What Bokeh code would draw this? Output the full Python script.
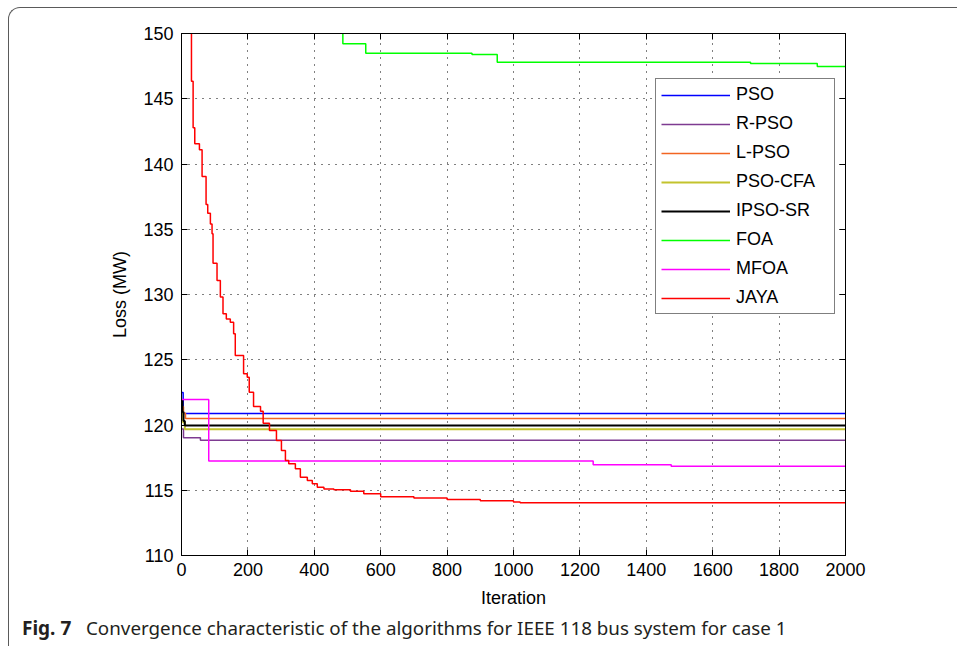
from bokeh.plotting import figure
from bokeh.layouts import column
from bokeh.models import Range1d, FixedTicker, LinearAxis, Legend, LegendItem, Div
from bokeh.embed import file_html
from bokeh.resources import INLINE

# Convergence histories (iteration at which each best-loss level starts, loss in MW)
pso_iter = [0, 5, 2000]
pso_loss = [122.5, 120.88, 120.88]

rpso_iter = [0, 6, 57, 2000]
rpso_loss = [119.7, 119.02, 118.84, 118.84]

lpso_iter = [0, 6, 12, 2000]
lpso_loss = [121.4, 120.9, 120.5, 120.5]

cfa_iter = [0, 5, 10, 2000]
cfa_loss = [121.0, 120.2, 119.68, 119.68]

ipso_iter = [0, 3, 6, 10, 2000]
ipso_loss = [121.9, 121.0, 120.3, 119.97, 119.97]

foa_iter = [0, 486, 555, 875, 951, 1714, 1915, 2000]
foa_loss = [152.0, 149.21, 148.49, 148.39, 147.8, 147.7, 147.47, 147.47]

mfoa_iter = [0, 82, 1240, 1475, 2000]
mfoa_loss = [121.95, 117.25, 116.95, 116.84, 116.84]

jaya_iter = [0, 30, 35, 40, 54, 62, 74, 79, 87, 92, 95, 107, 117, 125, 135, 147,
             157, 162, 187, 198, 204, 217, 238, 246, 265, 286, 301, 313, 323, 343,
             358, 379, 394, 409, 429, 459, 509, 549, 600, 700, 800, 900, 1000,
             1020, 2000]
jaya_loss = [165.0, 146.35, 142.77, 141.55, 141.09, 139.04, 136.90, 136.23, 135.4,
             134.65, 132.4, 131.07, 129.8, 128.52, 128.13, 127.88, 126.99, 125.33,
             123.92, 123.66, 122.51, 121.42, 121.06, 120.14, 119.58, 118.81, 118.05,
             117.28, 117.03, 116.65, 116.0, 115.75, 115.5, 115.23, 115.1, 115.03,
             114.93, 114.73, 114.5, 114.4, 114.3, 114.2, 114.1, 114.04, 114.04]

x_ticks = list(range(0, 2001, 200))
y_ticks = list(range(110, 151, 5))

series = [
    ("PSO", pso_iter, pso_loss, "#0000ff", 1.5),
    ("R-PSO", rpso_iter, rpso_loss, "#7e3b91", 1.5),
    ("L-PSO", lpso_iter, lpso_loss, "#f26522", 1.5),
    ("PSO-CFA", cfa_iter, cfa_loss, "#c3c32d", 2.0),
    ("IPSO-SR", ipso_iter, ipso_loss, "#000000", 2.0),
    ("FOA", foa_iter, foa_loss, "#00ff00", 1.5),
    ("MFOA", mfoa_iter, mfoa_loss, "#ff00ff", 1.5),
    ("JAYA", jaya_iter, jaya_loss, "#ff0000", 1.5),
]

caption_head = "Fig. 7"
caption_body = "Convergence characteristic of the algorithms for IEEE 118 bus system for case 1"

FONT = "Liberation Sans"
FS = "18px"

p = figure(width=948, height=612, output_backend="svg", toolbar_location=None,
           x_range=Range1d(0, 2000), y_range=Range1d(110, 150),
           min_border_left=172, min_border_right=112, min_border_top=25,
           min_border_bottom=65)
p.background_fill_color = "white"
p.border_fill_alpha = 0
p.outline_line_color = "black"
p.outline_line_width = 1

# MATLAB-like axes: inward ticks on all four sides, dotted grid
for ax in (p.xaxis[0], p.yaxis[0]):
    ax.major_tick_in = 6
    ax.major_tick_out = 0
    ax.minor_tick_line_color = None
    ax.axis_line_color = "black"
    ax.major_tick_line_color = "black"
    ax.major_label_text_font = FONT
    ax.major_label_text_font_size = FS
    ax.major_label_text_color = "black"
    ax.axis_label_text_font = FONT
    ax.axis_label_text_font_size = FS
    ax.axis_label_text_font_style = "normal"
    ax.axis_label_text_color = "black"

p.xaxis.ticker = FixedTicker(ticks=x_ticks)
p.yaxis.ticker = FixedTicker(ticks=y_ticks)
p.xaxis.axis_label = "Iteration"
p.yaxis.axis_label = "Loss (MW)"
p.xaxis.major_label_standoff = 7
p.yaxis.major_label_standoff = 8
p.xaxis.axis_label_standoff = 9
p.yaxis.axis_label_standoff = 10

top_ax = LinearAxis(ticker=FixedTicker(ticks=x_ticks), major_label_text_color=None,
                    major_tick_in=6, major_tick_out=0, minor_tick_line_color=None,
                    axis_line_color="black")
right_ax = LinearAxis(ticker=FixedTicker(ticks=y_ticks), major_label_text_color=None,
                      major_tick_in=6, major_tick_out=0, minor_tick_line_color=None,
                      axis_line_color="black")
p.add_layout(top_ax, "above")
p.add_layout(right_ax, "right")

for g in (p.xgrid[0], p.ygrid[0]):
    g.grid_line_color = "black"
    g.grid_line_dash = "1 6"
    g.grid_line_width = 1

items = []
for name, xs, ys, color, lw in series:
    r = p.step(xs, ys, mode="after", line_color=color, line_width=lw)
    items.append(LegendItem(label=name, renderers=[r]))

legend = Legend(items=items, location=(474, 241))
legend.label_text_font = FONT
legend.label_text_font_size = FS
legend.label_text_color = "black"
legend.border_line_color = "black"
legend.border_line_width = 1
legend.background_fill_color = "white"
legend.background_fill_alpha = 1
legend.padding = 5
legend.margin = 0
legend.spacing = 8
legend.label_height = 20
legend.glyph_height = 20
legend.glyph_width = 69
legend.label_standoff = 6
legend.label_width = 93
p.add_layout(legend, "center")

# Figure caption below the chart
caption_html = (
    '<div style="position:relative;top:-4px;font-family:\'Noto Sans\';font-size:18.8px;'
    'line-height:14px;color:#231f20;padding-left:8px;white-space:nowrap;">'
    '<span style="display:inline-block;width:64px;font-weight:bold;font-size:19px;">'
    + caption_head + '</span><span>' + caption_body + '</span></div>'
)
cap = Div(text=caption_html, width=948, height=26)

page = column(p, cap, spacing=0,
              styles={"margin-left": "8px", "margin-top": "7px",
                      "border-left": "1px solid #5a5a5a",
                      "border-top": "1px solid #5a5a5a",
                      "border-top-left-radius": "12px"})

open("out.html", "w").write(file_html(page, INLINE))
